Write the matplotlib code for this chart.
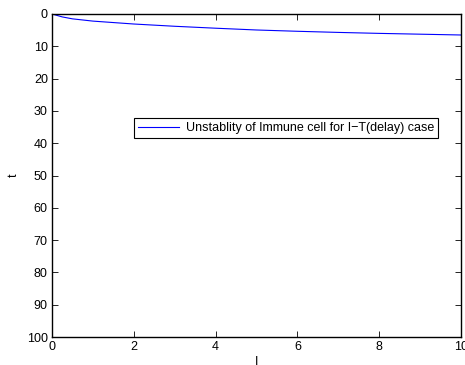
import matplotlib
matplotlib.use('Agg')
import matplotlib.pyplot as plt

plt.rcParams['font.family'] = ['Liberation Sans', 'DejaVu Sans']

# values
I_vals = [0, 0.25, 0.5, 1, 2, 3, 4, 5, 6, 7, 8, 9, 10]
t_vals = [0, 0.9, 1.5, 2.2, 3.1, 3.8, 4.4, 4.95, 5.35, 5.7, 6.0, 6.25, 6.5]
x_ticks = [0, 2, 4, 6, 8, 10]
y_ticks = [0, 10, 20, 30, 40, 50, 60, 70, 80, 90, 100]
legend_label = 'Unstablity of Immune cell for I\u2212T(delay) case'

fig = plt.figure(figsize=(4.65, 3.65), dpi=100)
ax = fig.add_axes([52/465, 1 - 337/365, 409/465, 323/365])

ax.plot(I_vals, t_vals, color='#0000ff', linewidth=0.8, label=legend_label)

ax.set_xlim(0, 10)
ax.set_ylim(100, 0)
ax.set_xticks(x_ticks)
ax.set_yticks(y_ticks)
ax.tick_params(direction='in', length=4, width=0.6, labelsize=9,
               top=True, right=True, pad=3)
for s in ax.spines.values():
    s.set_linewidth(1.0)

ax.set_xlabel('I', fontsize=9, labelpad=2)
ax.set_ylabel('t', fontsize=9, labelpad=5)

leg = ax.legend(loc='center', bbox_to_anchor=(0.572, 0.647), fontsize=9,
                fancybox=False, framealpha=1, edgecolor='black',
                handlelength=3.3, borderpad=0.3, handletextpad=0.5,
                borderaxespad=0)
leg.get_frame().set_linewidth(0.8)

fig.savefig('out.png', dpi=100)
